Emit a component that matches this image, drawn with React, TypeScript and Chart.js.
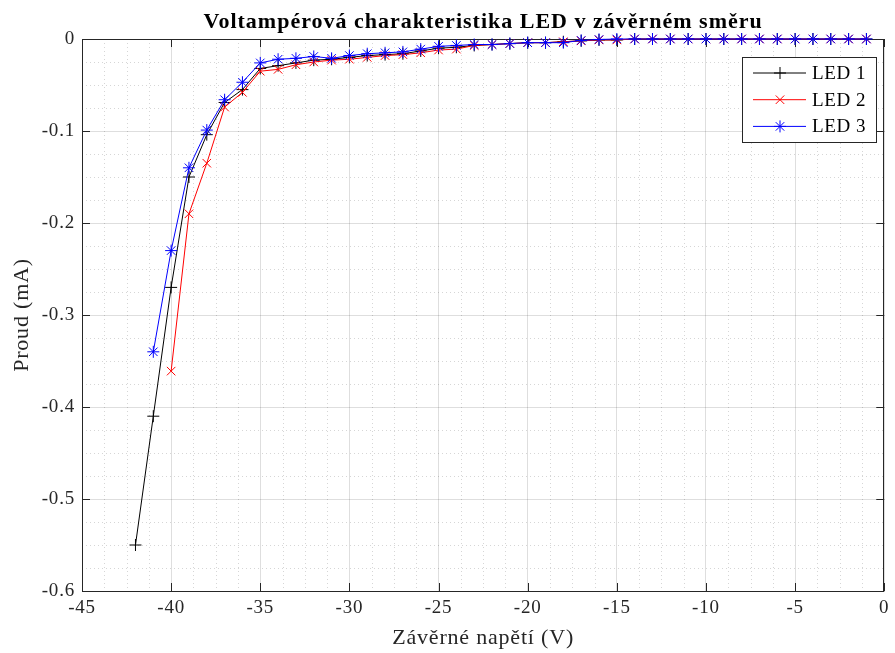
import { useEffect, useRef } from 'react';
import { Chart, registerables } from 'chart.js';

Chart.register(...registerables);

const led1Voltage = [-42, -41, -40, -39, -38, -37, -36, -35, -34, -33, -32, -31, -30, -29, -28, -27, -26, -25, -24, -23, -22, -21, -20, -19, -18, -17, -16, -15, -14, -13, -12, -11, -10, -9, -8, -7, -6, -5, -4, -3, -2, -1];
const led1Current = [-0.55, -0.41, -0.27, -0.15, -0.104, -0.069, -0.055, -0.032, -0.029, -0.026, -0.023, -0.022, -0.02, -0.018, -0.017, -0.016, -0.013, -0.01, -0.009, -0.007, -0.006, -0.005, -0.004, -0.004, -0.003, -0.002, -0.001, -0.001, 0, 0, 0, 0, 0, 0, 0, 0, 0, 0, 0, 0, 0, 0];

const led2Voltage = [-40, -39, -38, -37, -36, -35, -34, -33, -32, -31, -30, -29, -28, -27, -26, -25, -24, -23, -22, -21, -20, -19, -18, -17, -16, -15, -14, -13, -12, -11, -10, -9, -8, -7, -6, -5, -4, -3, -2, -1];
const led2Current = [-0.361, -0.19, -0.135, -0.074, -0.058, -0.035, -0.033, -0.028, -0.025, -0.023, -0.022, -0.02, -0.018, -0.017, -0.015, -0.012, -0.011, -0.007, -0.006, -0.005, -0.004, -0.004, -0.003, -0.002, -0.001, -0.001, 0, 0, 0, 0, 0, 0, 0, 0, 0, 0, 0, 0, 0, 0];

const led3Voltage = [-41, -40, -39, -38, -37, -36, -35, -34, -33, -32, -31, -30, -29, -28, -27, -26, -25, -24, -23, -22, -21, -20, -19, -18, -17, -16, -15, -14, -13, -12, -11, -10, -9, -8, -7, -6, -5, -4, -3, -2, -1];
const led3Current = [-0.34, -0.23, -0.14, -0.099, -0.066, -0.047, -0.026, -0.022, -0.021, -0.019, -0.021, -0.018, -0.016, -0.015, -0.014, -0.011, -0.008, -0.007, -0.006, -0.006, -0.005, -0.004, -0.004, -0.004, -0.0015, -0.0005, 0, 0, 0, 0, 0, 0, 0, 0, 0, 0, 0, 0, 0, 0, 0];

const seriesNames = ['LED 1', 'LED 2', 'LED 3'];
const chartTitle = 'Voltampérová charakteristika LED v závěrném směru';
const xAxisTitle = 'Závěrné napětí (V)';
const yAxisTitle = 'Proud (mA)';
const xMin = -45, xMax = 0, xStep = 5, xMinorStep = 1.25;
const yMin = -0.6, yMax = 0, yStep = 0.1, yMinorStep = 0.025;

const FONT = "'Liberation Serif', 'Times New Roman', serif";
const AXIS_COLOR = '#262626';

const toPoints = (xs: number[], ys: number[]) => xs.map((x, i) => ({ x, y: ys[i] }));

function drawMarker(ctx: CanvasRenderingContext2D, style: string, r: number, x: number, y: number) {
  ctx.beginPath();
  const plus = () => {
    ctx.moveTo(x - r, y); ctx.lineTo(x + r, y);
    ctx.moveTo(x, y - r); ctx.lineTo(x, y + r);
  };
  const rot = () => {
    const d = r * Math.SQRT1_2;
    ctx.moveTo(x - d, y - d); ctx.lineTo(x + d, y + d);
    ctx.moveTo(x - d, y + d); ctx.lineTo(x + d, y - d);
  };
  if (style === 'cross') plus();
  else if (style === 'crossRot') rot();
  else { plus(); rot(); }
  ctx.stroke();
}

const decorPlugin = {
  id: 'matlabDecor',
  beforeDraw(chart: any) {
    (chart.ctx as any).letterSpacing = '0.8px';
  },
  beforeDatasetsDraw(chart: any) {
    const { ctx, chartArea: a, scales } = chart;
    const xs = scales.x, ys = scales.y;
    ctx.save();
    ctx.strokeStyle = 'rgba(0,0,0,0.16)';
    ctx.lineWidth = 1;
    ctx.setLineDash([1, 3]);
    const nx = Math.round((xMax - xMin) / xMinorStep);
    for (let i = 1; i < nx; i++) {
      const v = xMin + i * xMinorStep;
      if (Math.abs(v / xStep - Math.round(v / xStep)) < 1e-6) continue;
      const px = Math.round(xs.getPixelForValue(v)) + 0.5;
      ctx.beginPath();
      ctx.moveTo(px, a.top);
      ctx.lineTo(px, a.bottom);
      ctx.stroke();
    }
    const ny = Math.round((yMax - yMin) / yMinorStep);
    for (let i = 1; i < ny; i++) {
      const v = yMin + i * yMinorStep;
      if (Math.abs(v / yStep - Math.round(v / yStep)) < 1e-6) continue;
      const py = Math.round(ys.getPixelForValue(v)) + 0.5;
      ctx.beginPath();
      ctx.moveTo(a.left, py);
      ctx.lineTo(a.right, py);
      ctx.stroke();
    }
    ctx.setLineDash([]);
    ctx.strokeStyle = AXIS_COLOR;
    ctx.strokeRect(Math.round(a.left) + 0.5, Math.round(a.top) + 0.5, Math.round(a.right - a.left) - 1, Math.round(a.bottom - a.top));
    const tl = 8;
    xs.ticks.forEach((t: any) => {
      const px = Math.round(xs.getPixelForValue(t.value)) + 0.5;
      ctx.beginPath();
      ctx.moveTo(px, a.bottom);
      ctx.lineTo(px, a.bottom - tl);
      ctx.moveTo(px, a.top);
      ctx.lineTo(px, a.top + tl);
      ctx.stroke();
    });
    ys.ticks.forEach((t: any) => {
      const py = Math.round(ys.getPixelForValue(t.value)) + 0.5;
      ctx.beginPath();
      ctx.moveTo(a.left, py);
      ctx.lineTo(a.left + tl, py);
      ctx.moveTo(a.right, py);
      ctx.lineTo(a.right - tl, py);
      ctx.stroke();
    });
    ctx.restore();
  },
  afterDatasetsDraw(chart: any) {
    const { ctx, chartArea: a } = chart;
    ctx.save();
    ctx.fillStyle = '#000';
    ctx.font = `bold 22px ${FONT}`;
    (ctx as any).letterSpacing = '1px';
    ctx.textAlign = 'center';
    ctx.textBaseline = 'alphabetic';
    ctx.fillText(chartTitle, (a.left + a.right) / 2, 28);
    const bx = 742.5, by = 57.5, bw = 134, bh = 85;
    ctx.fillStyle = '#fff';
    ctx.fillRect(bx, by, bw, bh);
    ctx.strokeStyle = AXIS_COLOR;
    ctx.lineWidth = 1;
    ctx.strokeRect(bx, by, bw, bh);
    const sorted = [...chart.data.datasets].sort((p: any, q: any) => p.legendIndex - q.legendIndex);
    sorted.forEach((ds: any, i: number) => {
      const cy = 73 + i * 26.7;
      ctx.strokeStyle = ds.borderColor;
      ctx.lineWidth = 1;
      ctx.beginPath();
      ctx.moveTo(753, cy);
      ctx.lineTo(806, cy);
      ctx.stroke();
      drawMarker(ctx, ds.pointStyle, ds.pointRadius, 780, cy);
      ctx.fillStyle = '#000';
      ctx.font = `19px ${FONT}`;
      (ctx as any).letterSpacing = '0.6px';
      ctx.textAlign = 'left';
      ctx.textBaseline = 'middle';
      ctx.fillText(ds.label, 812, cy + 1);
    });
    ctx.restore();
  },
};

export default function App() {
  const ref = useRef<HTMLCanvasElement | null>(null);
  useEffect(() => {
    document.body.style.margin = '0';
    const canvas = ref.current;
    if (!canvas) return;
    const mk = (idx: number, pts: any[], color: string, style: string) => ({
      label: seriesNames[idx],
      legendIndex: idx,
      order: 2 - idx,
      data: pts,
      borderColor: color,
      backgroundColor: color,
      borderWidth: 1,
      pointStyle: style,
      pointRadius: 6,
      pointBorderWidth: 1,
      pointBorderColor: color,
      showLine: true,
      fill: false,
      tension: 0,
      clip: false,
    });
    const chart = new Chart(canvas, {
      type: 'scatter',
      data: {
        datasets: [
          mk(0, toPoints(led1Voltage, led1Current), '#000000', 'cross'),
          mk(1, toPoints(led2Voltage, led2Current), '#ff0000', 'crossRot'),
          mk(2, toPoints(led3Voltage, led3Current), '#0000ff', 'star'),
        ],
      },
      options: {
        animation: false,
        responsive: false,
        maintainAspectRatio: false,
        layout: { padding: { top: 39, right: 2, left: 0, bottom: 0 } },
        plugins: {
          legend: { display: false },
          title: { display: false },
          tooltip: { enabled: false },
        },
        scales: {
          x: {
            type: 'linear',
            min: xMin,
            max: xMax,
            ticks: {
              stepSize: xStep,
              color: AXIS_COLOR,
              font: { family: FONT, size: 19 },
              padding: 6,
              maxRotation: 0,
              autoSkip: false,
              callback: (v: any) => String(Math.round(Number(v))),
            },
            grid: { color: 'rgba(0,0,0,0.13)', drawTicks: false },
            border: { display: false },
            title: {
              display: true,
              text: xAxisTitle,
              color: AXIS_COLOR,
              font: { family: FONT, size: 22 },
              padding: { top: 0, bottom: 2 },
            },
            afterFit: (s: any) => { s.height = 62; },
          },
          y: {
            type: 'linear',
            min: yMin,
            max: yMax,
            ticks: {
              stepSize: yStep,
              color: AXIS_COLOR,
              font: { family: FONT, size: 19 },
              padding: 7,
              autoSkip: false,
              callback: (v: any) => {
                const n = Math.round(Number(v) * 10) / 10;
                return n === 0 ? '0' : n.toFixed(1);
              },
            },
            grid: { color: 'rgba(0,0,0,0.13)', drawTicks: false },
            border: { display: false },
            title: {
              display: true,
              text: yAxisTitle,
              color: AXIS_COLOR,
              font: { family: FONT, size: 22 },
              padding: { top: 9, bottom: 0 },
            },
            afterFit: (s: any) => { s.width = 82; },
          },
        },
      } as any,
      plugins: [decorPlugin as any],
    });
    return () => chart.destroy();
  }, []);
  return <canvas ref={ref} width={895} height={653} style={{ display: 'block' }} />;
}
